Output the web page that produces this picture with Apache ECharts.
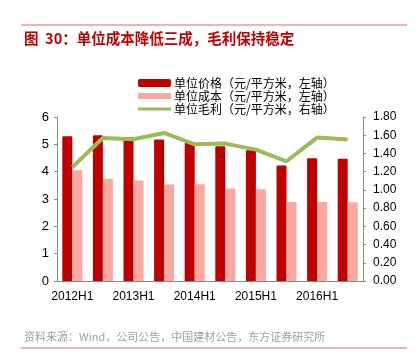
<!DOCTYPE html>
<html><head><meta charset="utf-8">
<script src="https://cdn.jsdelivr.net/npm/echarts@6/dist/echarts.min.js"></script>
<style>html,body{margin:0;padding:0;background:#fff}#c{width:418px;height:359px}</style>
</head><body><div id="c"></div>
<script>
var categories = ['2012H1','2012H2','2013H1','2013H2','2014H1','2014H2','2015H1','2015H2','2016H1','2016H2'];
var unitPrice = [5.30, 5.33, 5.27, 5.18, 5.06, 4.93, 4.78, 4.23, 4.49, 4.47];
var unitCost = [4.05, 3.73, 3.68, 3.53, 3.54, 3.38, 3.36, 2.89, 2.89, 2.88];
var unitMargin = [1.25, 1.57, 1.555, 1.625, 1.50, 1.508, 1.442, 1.314, 1.574, 1.552];
var leftTicks = [0, 1, 2, 3, 4, 5, 6];
var rightTicks = [0, 0.2, 0.4, 0.6, 0.8, 1.0, 1.2, 1.4, 1.6, 1.8];
var names = ['单位价格（元/平方米，左轴）','单位成本（元/平方米，左轴）','单位毛利（元/平方米，右轴）'];
var title = '图  30：单位成本降低三成，毛利保持稳定';
var source = '资料来源：Wind，公司公告，中国建材公告，东方证券研究所';

var font = '"Liberation Sans", Arial, "Noto Sans CJK SC", sans-serif';
var cjk = '"Noto Sans CJK SC", "Liberation Sans", sans-serif';
var chart = echarts.init(document.getElementById('c'), null, {renderer:'canvas'});
chart.setOption({
  animation: false,
  textStyle: {fontFamily: font},
  graphic: [
    {type:'line', shape:{x1:21,y1:25,x2:407,y2:25}, style:{stroke:'#e06666', lineWidth:1}},
    {type:'text', left:24, top:31, style:{text:title, font:'bold 14.5px ' + cjk, fill:'#c00000'}},
    {type:'text', left:24, top:331, style:{text:source, font:'11px ' + cjk, fill:'#a0a0a0'}},
    {type:'line', shape:{x1:21,y1:348,x2:407,y2:348}, style:{stroke:'#e06666', lineWidth:1}}
  ],
  legend: {
    orient:'vertical', left:133, top:72, itemGap:1, itemWidth:33, itemHeight:8,
    textStyle:{fontSize:12, color:'#000', fontFamily:cjk, lineHeight:12, padding:[0,0,0,-2]},
    data:[
      {name:names[0], icon:'roundRect'},
      {name:names[1], icon:'path://M0,0L33,0L33,6L0,6Z'},
      {name:names[2], icon:'path://M0,0L33,0L33,3L0,3Z'}
    ]
  },
  grid: {left:57, right:55, top:117, bottom:78},
  xAxis: {
    type:'category', data:categories,
    axisLine:{lineStyle:{color:'#888'}},
    axisTick:{inside:true, length:3, lineStyle:{color:'#888'}},
    axisLabel:{interval:1, color:'#000', fontSize:12, margin:10}
  },
  yAxis: [
    {type:'value', min:0, max:6, interval:1,
     axisLine:{show:true, lineStyle:{color:'#888'}},
     axisTick:{show:true, length:3, lineStyle:{color:'#888'}},
     splitLine:{show:false},
     axisLabel:{color:'#000', fontSize:13, margin:8}},
    {type:'value', min:0, max:1.8, interval:0.2,
     axisLine:{show:true, lineStyle:{color:'#888'}},
     axisTick:{show:true, length:3, lineStyle:{color:'#888'}},
     splitLine:{show:false},
     axisLabel:{color:'#000', fontSize:12, margin:10, formatter:function(v){return v.toFixed(2);}}}
  ],
  series: [
    {name:names[0], type:'bar', data:unitPrice, barWidth:10, barGap:'0%', itemStyle:{color:'#c00000', borderRadius:[1,1,0,0]}},
    {name:names[1], type:'bar', data:unitCost, barWidth:10, itemStyle:{color:'#f8a9a2'}},
    {name:names[2], type:'line', yAxisIndex:1, data:unitMargin, symbol:'none', lineStyle:{color:'#9bbb59', width:4}, itemStyle:{color:'#9bbb59'}, z:5}
  ]
});
</script></body></html>
